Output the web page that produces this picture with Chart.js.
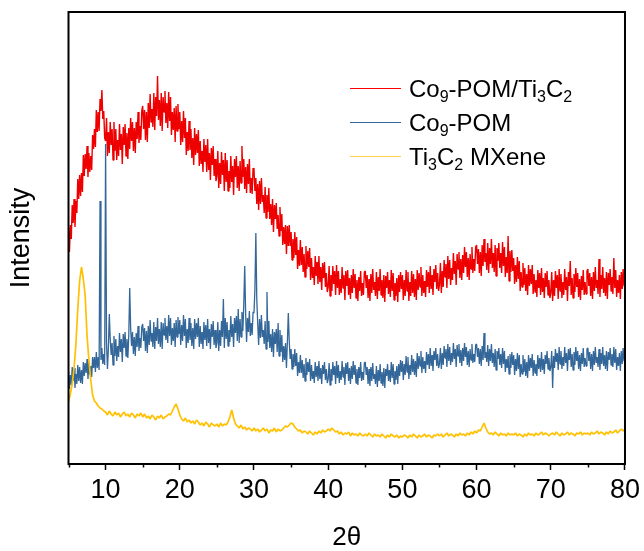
<!DOCTYPE html>
<html>
<head>
<meta charset="utf-8">
<script src="https://cdn.jsdelivr.net/npm/chart.js@4.4.1/dist/chart.umd.min.js"></script>
<style>
    html, body { margin: 0; padding: 0; background: #fff; }
    #wrap { position: relative; width: 644px; height: 551px; }
    .legend-row {
        position: absolute; left: 350px; height: 34px; line-height: 34px; white-space: nowrap;
        font-family: "Liberation Sans", Arial, sans-serif; font-size: 24px; color: #000;
    }
    .legend-row .swatch {
        display: inline-block; width: 51px; height: 1.5px; margin-right: 8px;
        vertical-align: middle; position: relative; top: -2px;
    }
    .legend-row sub { font-size: 16px; vertical-align: baseline; position: relative; top: 5px; line-height: 0; }
</style>
</head>
<body>
<div id="wrap">
    <canvas id="xrdChart" width="644" height="551"></canvas>
    <div class="legend-row" style="top: 72px;"><span class="swatch" style="background: #ff0000;"></span><span>Co<sub>9</sub>-POM/Ti<sub>3</sub>C<sub>2</sub></span></div>
    <div class="legend-row" style="top: 106px;"><span class="swatch" style="background: #336699;"></span><span>Co<sub>9</sub>-POM</span></div>
    <div class="legend-row" style="top: 140px;"><span class="swatch" style="background: #ffd04a;"></span><span>Ti<sub>3</sub>C<sub>2</sub> MXene</span></div>
</div>
<script>
const FONT = "'Liberation Sans', Arial, sans-serif";

// 2θ grids: 0.125 deg steps for the two noisy scans, 0.25 deg for the MXene scan
const twoThetaFine = [];
for (let i = 0; i <= 600; i++) twoThetaFine.push(5 + i * 0.125);
const twoThetaCoarse = [];
for (let i = 0; i <= 300; i++) twoThetaCoarse.push(5 + i * 0.25);

const xTickValues = [5, 10, 15, 20, 25, 30, 35, 40, 45, 50, 55, 60, 65, 70, 75, 80];

// intensities (a.u.), one row = 2.5 degrees (fine grid) / 5 degrees (coarse grid)
const coPomTi3c2 = [
    237, 212, 239, 225, 259, 241, 265, 237, 263, 251, 285, 265, 289, 268, 291, 272, 309, 288, 310, 295,
    318, 287, 311, 292, 308, 294, 329, 315, 335, 317, 354, 332, 352, 333, 365, 353, 374, 345, 353, 326,
    323, 346, 308, 332, 311, 342, 319, 335, 304, 342, 313, 335, 304, 324, 308, 340, 314, 330, 300, 337,
    319, 340, 308, 331, 305, 336, 315, 346, 323, 342, 313, 336, 311, 342, 325, 352, 321, 338, 324, 353,
    358, 335, 354, 324, 352, 322, 361, 336, 370, 342, 355, 337, 371, 334, 367, 348, 388, 344, 364, 338,
    371, 333, 367, 352, 373, 341, 361, 336, 372, 343, 367, 329, 352, 334, 356, 322, 358, 333, 360, 335,
    352, 319, 343, 322, 353, 326, 346, 309, 332, 313, 343, 314, 335, 306, 326, 299, 336, 309, 330, 311,
    334, 298, 323, 300, 313, 292, 325, 302, 319, 292, 325, 294, 311, 284, 316, 299, 318, 288, 305, 283,
    288, 313, 276, 301, 280, 312, 289, 304, 273, 311, 282, 304, 273, 293, 276, 308, 282, 298, 269, 305,
    287, 308, 276, 298, 273, 303, 281, 318, 287, 305, 275, 297, 271, 300, 280, 305, 271, 286, 270, 296,
    294, 273, 286, 260, 280, 254, 283, 260, 286, 262, 269, 251, 277, 246, 269, 252, 276, 245, 260, 239,
    265, 232, 259, 245, 261, 235, 249, 228, 257, 233, 250, 219, 237, 220, 239, 210, 238, 218, 239, 218,
    232, 204, 225, 206, 232, 209, 227, 195, 214, 198, 224, 199, 217, 192, 210, 187, 218, 195, 213, 197,
    216, 184, 206, 186, 197, 179, 208, 188, 202, 180, 208, 182, 197, 174, 201, 186, 202, 177, 191, 172,
    177, 198, 168, 189, 173, 198, 180, 193, 169, 199, 176, 193, 169, 185, 171, 197, 176, 189, 164, 193,
    178, 194, 169, 186, 165, 189, 171, 195, 176, 190, 166, 184, 163, 187, 173, 193, 168, 181, 169, 192,
    193, 176, 189, 166, 185, 163, 190, 171, 195, 174, 182, 168, 192, 165, 187, 173, 195, 169, 184, 166,
    189, 162, 188, 176, 192, 170, 184, 167, 194, 173, 191, 164, 181, 168, 186, 162, 189, 172, 192, 175,
    189, 164, 184, 168, 194, 173, 192, 163, 182, 168, 193, 171, 190, 167, 185, 164, 194, 174, 191, 177,
    197, 168, 189, 171, 183, 167, 194, 177, 192, 171, 198, 175, 189, 169, 195, 182, 199, 175, 191, 173,
    179, 201, 171, 193, 177, 204, 187, 200, 176, 208, 185, 204, 179, 196, 184, 211, 190, 203, 179, 210,
    195, 212, 186, 205, 184, 209, 191, 217, 197, 212, 187, 206, 184, 210, 195, 217, 191, 205, 193, 217,
    219, 200, 215, 191, 212, 188, 219, 198, 225, 202, 211, 194, 221, 191, 216, 200, 225, 196, 211, 192,
    219, 188, 216, 203, 221, 196, 211, 191, 222, 198, 217, 187, 207, 191, 228, 183, 213, 192, 214, 193,
    206, 180, 199, 182, 207, 185, 203, 173, 192, 177, 201, 179, 196, 173, 190, 169, 199, 178, 195, 180,
    199, 170, 190, 172, 184, 167, 194, 176, 191, 169, 196, 172, 186, 166, 191, 177, 193, 169, 184, 166,
    171, 192, 163, 184, 168, 193, 176, 189, 165, 195, 173, 190, 166, 182, 169, 195, 174, 187, 163, 192,
    178, 203, 169, 186, 166, 190, 172, 196, 177, 191, 167, 185, 164, 188, 174, 194, 169, 182, 170, 193,
    195, 178, 191, 168, 187, 165, 192, 173, 197, 176, 184, 170, 205, 167, 189, 175, 197, 171, 186, 168,
    192, 165, 191, 179, 195, 173, 187, 170, 206, 176, 194, 167, 184, 171, 189, 165, 192, 175, 195, 178,
    183
];

const coPom = [
    93, 75, 89, 79, 97, 83, 96, 76, 90, 80, 99, 83, 97, 81, 94, 80, 102, 88, 101, 91,
    105, 85, 101, 89, 98, 87, 107, 96, 107, 92, 112, 96, 107, 94, 263, 104, 116, 100, 110, 99,
    320, 121, 95, 115, 150, 125, 109, 121, 99, 128, 108, 125, 103, 118, 107, 131, 112, 125, 102, 130,
    116, 132, 108, 125, 106, 129, 176, 136, 118, 132, 110, 127, 108, 131, 117, 138, 113, 126, 116, 137,
    140, 123, 136, 113, 133, 111, 138, 119, 144, 123, 131, 117, 142, 115, 137, 123, 146, 120, 135, 117,
    142, 115, 141, 129, 146, 124, 138, 121, 149, 128, 146, 119, 136, 123, 141, 117, 144, 127, 147, 130,
    144, 119, 139, 123, 149, 128, 145, 116, 135, 121, 146, 124, 141, 118, 136, 115, 145, 125, 141, 127,
    146, 117, 138, 120, 132, 115, 142, 124, 139, 118, 145, 121, 135, 115, 140, 127, 143, 119, 134, 116,
    121, 142, 113, 134, 118, 143, 127, 165, 116, 146, 125, 142, 118, 134, 122, 148, 127, 140, 117, 146,
    131, 148, 123, 155, 121, 145, 127, 152, 133, 160, 198, 150, 122, 146, 132, 153, 128, 141, 129, 152,
    151, 175, 231, 165, 141, 119, 145, 126, 149, 127, 134, 120, 143, 115, 172, 122, 143, 116, 130, 112,
    135, 107, 132, 120, 135, 112, 141, 108, 134, 112, 129, 102, 118, 104, 121, 96, 122, 151, 123, 105,
    115, 95, 110, 97, 115, 98, 111, 88, 102, 91, 109, 91, 104, 86, 100, 83, 106, 89, 102, 92,
    105, 83, 99, 85, 93, 81, 102, 87, 98, 83, 103, 85, 96, 80, 99, 90, 102, 84, 95, 81,
    85, 101, 79, 95, 83, 102, 89, 98, 80, 103, 86, 99, 81, 93, 84, 103, 87, 97, 79, 101,
    90, 102, 83, 96, 80, 98, 85, 103, 89, 99, 81, 95, 79, 97, 86, 102, 83, 92, 84, 101,
    102, 89, 97, 80, 95, 78, 97, 83, 101, 85, 90, 80, 98, 77, 94, 83, 100, 81, 92, 78,
    96, 76, 95, 88, 100, 83, 94, 82, 102, 86, 100, 80, 93, 84, 98, 80, 100, 88, 104, 92,
    103, 84, 100, 89, 108, 92, 107, 85, 99, 89, 109, 92, 105, 89, 103, 87, 111, 95, 108, 98,
    113, 91, 107, 95, 103, 91, 112, 99, 110, 95, 116, 98, 109, 93, 113, 104, 116, 98, 110, 96,
    100, 116, 95, 111, 99, 118, 106, 115, 97, 120, 103, 117, 99, 111, 102, 121, 105, 115, 97, 119,
    108, 120, 101, 114, 98, 116, 103, 121, 107, 117, 99, 113, 97, 115, 104, 120, 101, 110, 102, 119,
    120, 107, 116, 100, 115, 98, 118, 104, 131, 106, 112, 102, 119, 98, 115, 103, 120, 101, 111, 97,
    115, 94, 113, 105, 116, 99, 110, 96, 116, 100, 113, 92, 105, 96, 108, 90, 110, 96, 112, 99,
    109, 89, 105, 93, 111, 95, 109, 87, 100, 90, 109, 92, 105, 88, 102, 86, 109, 93, 106, 96,
    110, 88, 104, 91, 100, 88, 109, 95, 106, 92, 112, 94, 105, 90, 109, 100, 113, 95, 106, 93,
    97, 113, 76, 108, 96, 115, 102, 111, 94, 117, 100, 113, 95, 107, 98, 117, 101, 111, 93, 115,
    104, 116, 97, 110, 94, 112, 99, 117, 103, 113, 95, 109, 93, 111, 100, 116, 97, 106, 98, 115,
    116, 103, 112, 95, 110, 93, 113, 99, 117, 101, 107, 97, 115, 94, 111, 100, 117, 98, 109, 95,
    113, 93, 112, 104, 116, 99, 110, 97, 117, 101, 115, 94, 107, 98, 111, 93, 113, 100, 116, 103,
    106
];

const ti3c2 = [
    62, 70, 80, 96, 120, 155, 183, 197, 185, 168, 128, 104, 84, 69, 63, 61, 58, 56, 55, 53,
    52, 49, 53, 50, 48, 52, 49, 51, 47, 50, 52, 48, 50, 47, 51, 49, 46, 50, 48, 51,
    47, 50, 46, 48, 45, 49, 47, 44, 48, 46, 49, 45, 47, 48, 50, 49, 53, 57, 60, 55,
    49, 45, 43, 46, 42, 44, 41, 43, 40, 44, 42, 39, 41, 38, 42, 40, 37, 41, 39, 38,
    40, 37, 41, 38, 40, 39, 42, 47, 54, 46, 40, 38, 36, 39, 35, 37, 34, 36, 35, 33,
    36, 33, 35, 32, 34, 36, 33, 35, 31, 34, 33, 36, 32, 35, 33, 34, 36, 38, 37, 39,
    41, 40, 37, 35, 33, 34, 31, 33, 32, 30, 33, 31, 29, 32, 30, 33, 31, 34, 32, 33,
    35, 33, 36, 34, 32, 33, 30, 32, 29, 31, 30, 32, 28, 31, 29, 30, 28, 31, 29, 28,
    30, 28, 31, 29, 27, 30, 28, 29, 27, 30, 28, 26, 29, 27, 30, 28, 27, 29, 26, 28,
    27, 29, 28, 26, 29, 27, 30, 28, 26, 29, 27, 28, 30, 27, 29, 28, 26, 29, 28, 30,
    28, 30, 27, 29, 31, 28, 30, 29, 27, 30, 28, 31, 29, 30, 28, 31, 29, 32, 30, 33,
    31, 34, 33, 37, 41, 36, 32, 30, 31, 29, 32, 30, 28, 31, 29, 30, 28, 31, 29, 30,
    29, 31, 28, 30, 29, 27, 30, 28, 31, 29, 30, 28, 31, 29, 30, 32, 29, 31, 30, 28,
    30, 31, 29, 32, 30, 28, 31, 29, 30, 32, 29, 31, 30, 28, 31, 30, 32, 29, 31, 30,
    31, 29, 32, 30, 31, 33, 30, 32, 31, 29, 32, 30, 33, 31, 32, 34, 31, 33, 35, 33,
    35
];

function toPoints(xs, values) {
    return xs.map((x, i) => ({ x: x, y: values[i] }));
}

function lineDataset(label, xs, values, color, width, order) {
    return {
        label: label,
        data: toPoints(xs, values),
        borderColor: color,
        borderWidth: width,
        borderJoinStyle: "bevel",
        pointRadius: 0,
        tension: 0,
        fill: false,
        order: order
    };
}

// box around the plot and short minor ticks
const frameAndMinorTicks = {
    id: "frameAndMinorTicks",
    afterDatasetsDraw(chart) {
        const { ctx, chartArea } = chart;
        const xScale = chart.scales.x;
        ctx.save();
        ctx.strokeStyle = "#000";
        ctx.lineWidth = 2;
        ctx.strokeRect(chartArea.left, chartArea.top, chartArea.right - chartArea.left, chartArea.bottom - chartArea.top);
        ctx.lineWidth = 1.5;
        xTickValues.filter(v => v % 10 !== 0).forEach(v => {
            const px = Math.round(xScale.getPixelForValue(v)) + 0.5;
            ctx.beginPath();
            ctx.moveTo(px, chartArea.bottom);
            ctx.lineTo(px, chartArea.bottom + 3.5);
            ctx.stroke();
        });
        ctx.restore();
    }
};

new Chart(document.getElementById("xrdChart"), {
    type: "line",
    data: {
        datasets: [
            lineDataset("Co9-POM/Ti3C2", twoThetaFine, coPomTi3c2, "#ee0000", 1.4, 3),
            lineDataset("Co9-POM", twoThetaFine, coPom, "#336699", 1.3, 2),
            lineDataset("Ti3C2 MXene", twoThetaCoarse, ti3c2, "#ffc000", 1.7, 1)
        ]
    },
    options: {
        responsive: false,
        animation: false,
        events: [],
        layout: { padding: { top: 12, right: 18, left: 0, bottom: 0 } },
        plugins: { legend: { display: false }, tooltip: { enabled: false } },
        scales: {
            x: {
                type: "linear",
                min: 5,
                max: 80,
                afterBuildTicks: scale => { scale.ticks = xTickValues.map(v => ({ value: v })); },
                afterFit: scale => { scale.height = 87; },
                border: { display: false },
                grid: {
                    drawOnChartArea: false,
                    tickLength: 6,
                    tickWidth: 1.5,
                    tickColor: ctx => (ctx.tick && ctx.tick.value % 10 === 0) ? "#000" : "rgba(0,0,0,0)"
                },
                ticks: {
                    autoSkip: false,
                    maxRotation: 0,
                    padding: 4,
                    color: "#000",
                    font: { family: FONT, size: 27 },
                    callback: v => (v % 10 === 0 ? String(v) : "")
                },
                title: {
                    display: true,
                    text: "2θ",
                    color: "#000",
                    font: { family: FONT, size: 26, lineHeight: 1 },
                    padding: { top: 0, bottom: 0 }
                }
            },
            y: {
                min: 0,
                max: 452,
                afterFit: scale => { scale.width = 68.5; },
                border: { display: false },
                grid: { display: false },
                ticks: { display: false },
                title: {
                    display: true,
                    text: "Intensity",
                    color: "#000",
                    font: { family: FONT, size: 27, lineHeight: 1 },
                    padding: { top: 8, bottom: 0 }
                }
            }
        }
    },
    plugins: [frameAndMinorTicks]
});
</script>
</body>
</html>
